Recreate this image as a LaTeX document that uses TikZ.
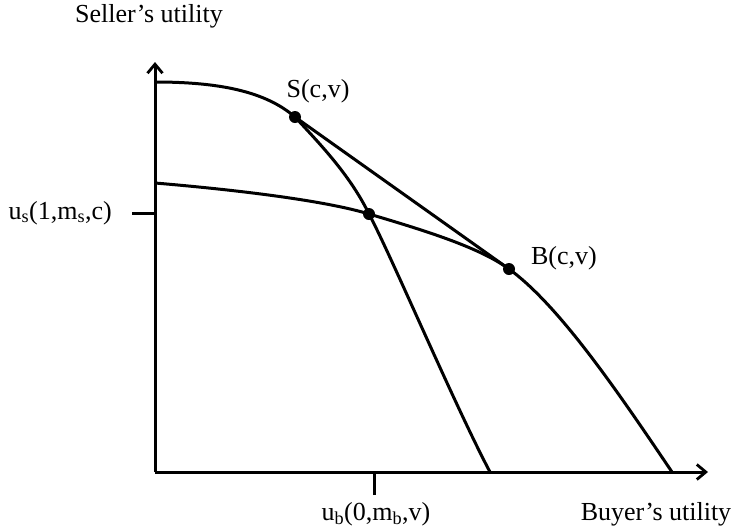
\documentclass[tikz,border=0pt]{standalone}
\usepackage{fontspec}
\setmainfont{Liberation Serif}
\usetikzlibrary{arrows.meta}

\begin{document}
\begin{tikzpicture}[x=1pt, y=-1pt,
            ax/.style={line width=3pt, -{Straight Barb[length=9pt, width=15pt, line width=2.8pt]}},
            crv/.style={line width=3pt, line join=round},
            dot/.style={circle, fill=black, minimum size=12pt, inner sep=0pt},
            lbl/.style={font=\fontsize{26}{31}\selectfont, inner sep=0pt}]
            \useasboundingbox (0,0) rectangle (734,531);
            \coordinate (O) at (155,472);
            \coordinate (ytop) at (155,62);
            \coordinate (xend) at (708,472);
            \draw[ax] (O) -- (ytop);
            \draw[ax] (O) -- (xend);
            \coordinate (ts) at (132,213);
            \coordinate (tb) at (374,495);
            \draw[crv] (ts) -- (O |- ts);
            \draw[crv] (tb) -- (tb |- O);
            \node[dot] (S) at (295,117) {};
            \node[dot] (M) at (369,214) {};
            \node[dot] (B) at (509,269) {};
            \draw[crv] (155,82) .. controls (218,82) and (265,91) .. (S.center)
                .. controls (320,144) and (350,175) .. (M.center)
                .. controls (390,253) and (455,406) .. (490,472);
            \draw[crv] (155,183) .. controls (250,191) and (330,202) .. (M.center)
                .. controls (430,232) and (480,248) .. (B.center)
                .. controls (560,306) and (620,395) .. (672,472);
            \draw[crv] (S.center) -- (B.center);
            \node[lbl] (sl) at (318,91)  {S(c,v)};
            \node[lbl] (bl) at (564,258) {B(c,v)};
            \node[lbl, left=20pt] (us) at (ts) {u\textsubscript{s}(1,m\textsubscript{s},c)};
            \node[lbl] (ub) at (376,514) {u\textsubscript{b}(0,m\textsubscript{b},v)};
            \node[lbl] (yl) at (149,16)  {Seller's utility};
            \node[lbl] (xl) at (656,514) {Buyer's utility};
        \end{tikzpicture}
\end{document}
